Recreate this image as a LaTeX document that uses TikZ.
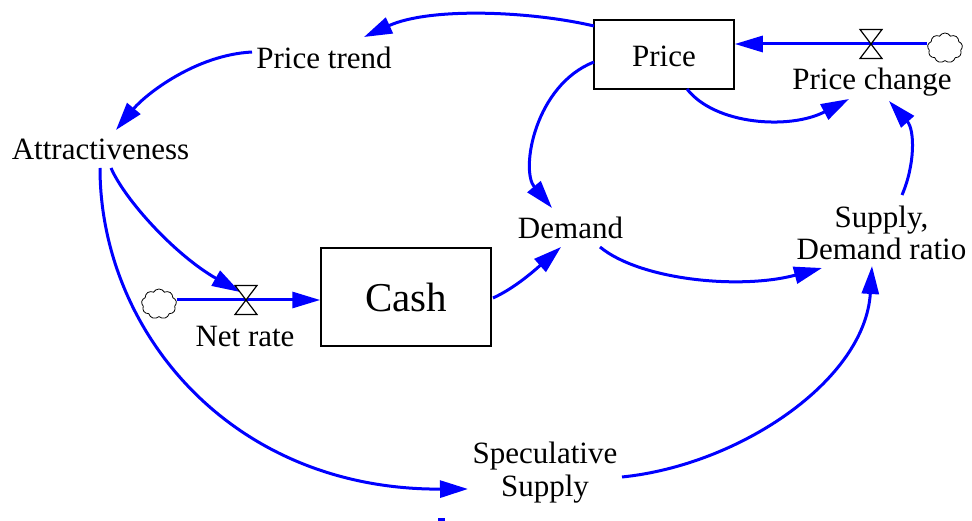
\documentclass[tikz,border=0pt]{standalone}
\usepackage{fontspec}
\setmainfont{Liberation Serif}
\usetikzlibrary{arrows.meta,shapes.symbols}
\begin{document}
\begin{tikzpicture}[x=1pt,y=-1pt,
  font=\fontsize{31}{32.5}\selectfont,
  txt/.style={anchor=base,inner sep=0pt,align=center},
  stock/.style={draw=black,line width=1.5pt,inner sep=0pt,text depth=0pt},
  link/.style={draw=blue,line width=3pt,-{Triangle[length=28pt,width=17pt]}},
  flow/.style={draw=blue,line width=3pt,-{Triangle[length=28pt,width=16pt]}},
  valveline/.style={draw=black,line width=1.2pt,fill=white,line join=miter},
  cloudsrc/.style={cloud,cloud puffs=9,cloud puff arc=120,draw=black,line width=0.8pt,
    inner sep=0pt,minimum width=35pt,minimum height=30pt,aspect=1.2}
]
\useasboundingbox (0,0) rectangle (972,521);

% stocks
\node[stock,minimum width=140pt,minimum height=69pt,text height=25pt] (price) at (664,54.5) {Price};
\node[stock,minimum width=170pt,minimum height=98pt,text height=30pt,
      font=\fontsize{41}{44}\selectfont] (cash) at (406,297) {Cash};

% variables
\node[txt] (ptrend) at (324,69) {Price trend};
\node[txt] (attr) at (100.5,160) {Attractiveness};
\node[txt] (demand) at (570.5,239) {Demand};
\node[txt] (pchange) at (872,90) {Price change};
\node[txt] (netrate) at (245,346) {Net rate};
\node[txt] (ratio) at (881.5,260) {Supply,\\Demand ratio};
\node[txt] (spec) at (545,496) {Speculative\\Supply};

% clouds
\node[cloudsrc] (c1) at (159,304) {};
\node[cloudsrc] (c2) at (945,48) {};

% valve centres
\coordinate (v1) at (246,300);
\coordinate (v2) at (871,44);

% connector end points
\coordinate (a1s) at (594,26);   \coordinate (a1e) at (364,37);
\coordinate (a2s) at (252,52);   \coordinate (a2e) at (116,130);
\coordinate (a3s) at (111,168);  \coordinate (a3e) at (240,292);
\coordinate (a4s) at (100,168);  \coordinate (a4e) at (468,489);
\coordinate (a5s) at (622,477);  \coordinate (a5e) at (872,266);
\coordinate (a6s) at (493,298);  \coordinate (a6e) at (561,247);
\coordinate (a7s) at (600,247);  \coordinate (a7e) at (822,268);
\coordinate (a8s) at (594,62);   \coordinate (a8e) at (552,208);
\coordinate (a9s) at (687,89);   \coordinate (a9e) at (849,99);
\coordinate (a10s) at (902,195); \coordinate (a10e) at (889,101);

% flows
\draw[flow] (c1.east |- v1) -- (cash.west |- v1);
\draw[flow] (c2.west |- v2) -- (price.east |- v2);

% links
\draw[link] (a1s) .. controls (530,11) and (430,7) .. (a1e);
\draw[link] (a2s) .. controls (195,55) and (145,95) .. (a2e);
\draw[link] (a3s) .. controls (125,200) and (175,255) .. (a3e);
\draw[link] (a4s) .. controls (100,330) and (230,490) .. (a4e);
\draw[link] (a5s) .. controls (740,465) and (865,380) .. (a5e);
\draw[link] (a6s) .. controls (515,288) and (535,270) .. (a6e);
\draw[link] (a7s) .. controls (640,280) and (740,290) .. (a7e);
\draw[link] (a8s) .. controls (535,85) and (520,170) .. (a8e);
\draw[link] (a9s) .. controls (715,125) and (790,130) .. (a9e);
\draw[link] (a10s) .. controls (915,165) and (915,130) .. (a10e);

% valves
\draw[valveline,shift={(v1)}] (-11,-14.5) -- (11,-14.5) -- (-11,14.5) -- (11,14.5) -- cycle;
\draw[valveline,shift={(v2)}] (-11,-14.5) -- (11,-14.5) -- (-11,14.5) -- (11,14.5) -- cycle;

% small mark at the bottom
\fill[blue] (438,517.5) rectangle (445,521);
\end{tikzpicture}
\end{document}
